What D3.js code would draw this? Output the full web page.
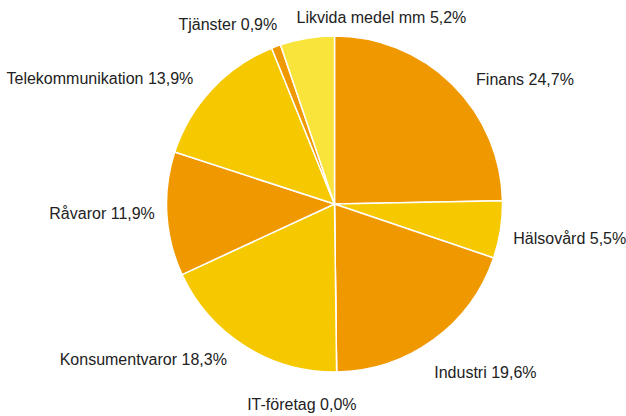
<!DOCTYPE html>
<html>
<head>
<meta charset="utf-8">
<script src="https://cdn.jsdelivr.net/npm/d3@7"></script>
<style>
  body { margin: 0; background: #fff; }
  text { font-family: "Liberation Sans", Arial, sans-serif; font-size: 16px; fill: #222; }
</style>
</head>
<body>
<svg width="626" height="416"></svg>
<script>
// Sector shares in percent, clockwise from 12 o'clock
const sectors = ["Finans", "Hälsovård", "Industri", "IT-företag", "Konsumentvaror",
                 "Råvaror", "Telekommunikation", "Tjänster", "Likvida medel mm"];
const shares = [24.7, 5.5, 19.6, 0.0, 18.3, 11.9, 13.9, 0.9, 5.2];
const sliceColors = ["#F09800", "#F5C800", "#F09800", "#F5C800", "#F5C800",
                     "#F09800", "#F5C800", "#F09800", "#F9E43C"];

// Small manual label nudges (like a hand-tuned chart)
const nudge = {
  "Finans": [12, 15], "Hälsovård": [-4, 6], "Industri": [-9, 12], "IT-företag": [-35, 9],
  "Konsumentvaror": [-9, -8], "Råvaror": [5, -2], "Telekommunikation": [-6, 8],
  "Tjänster": [7, 1], "Likvida medel mm": [77, 3]
};

const svg = d3.select("svg");
const cx = 334.5, cy = 204, r = 168, labelR = 185, boxH = 14;

const data = sectors.map((name, i) => ({ name, value: shares[i], color: sliceColors[i] }));

const pie = d3.pie().value(d => d.value).sort(null);
const arc = d3.arc().innerRadius(0).outerRadius(r);
const arcs = pie(data);

const g = svg.append("g").attr("transform", `translate(${cx},${cy})`);

g.selectAll("path")
  .data(arcs)
  .join("path")
  .attr("d", arc)
  .attr("fill", d => d.data.color)
  .attr("stroke", "#fff")
  .attr("stroke-width", 1.5)
  .attr("stroke-linejoin", "round");

const fmt = v => v.toFixed(1).replace(".", ",") + "%";

// Labels placed outside: box corner nearest the pie sits on the mid-angle
const labels = g.selectAll("text")
  .data(arcs)
  .join("text")
  .text(d => `${d.data.name} ${fmt(d.data.value)}`);

labels.each(function (d) {
  const a = (d.startAngle + d.endAngle) / 2;
  const s = Math.sin(a), c = Math.cos(a);
  const px = labelR * s, py = -labelR * c;
  const w = this.getComputedTextLength();
  let x = s > 0.2 ? px : s < -0.2 ? px - w : px - w / 2;
  let yc = c > 0.3 ? py - boxH / 2 : c < -0.3 ? py + boxH / 2 : py;
  const [dx, dy] = nudge[d.data.name] || [0, 0];
  d3.select(this)
    .attr("x", x + dx)
    .attr("y", yc + dy + 5.5);
});
</script>
</body>
</html>
